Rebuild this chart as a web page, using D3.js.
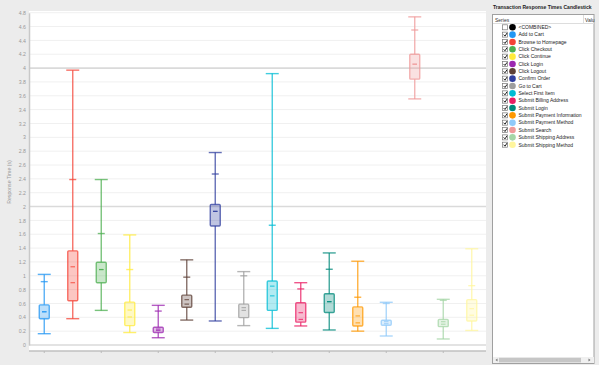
<!DOCTYPE html>
<html><head><meta charset="utf-8">
<script src="https://cdn.jsdelivr.net/npm/d3@7"></script>
<style>
html,body{margin:0;padding:0;background:#ececec;}
svg{display:block;font-family:"Liberation Sans",Arial,sans-serif;}
</style></head>
<body>
<svg id="c" width="599" height="365"></svg>
<script>
const categories = ["Add to Cart","Browse to Homepage","Click Checkout","Click Continue","Click Login","Click Logout","Confirm Order","Go to Cart","Select First Item","Submit Billing Address","Submit Login","Submit Payment Information","Submit Payment Method","Submit Search","Submit Shipping Address","Submit Shipping Method"];
const minVals    = [0.163,0.38,0.50,0.18,0.105,0.36,0.347,0.28,0.24,0.275,0.217,0.20,0.13,3.555,0.087,0.21];
const q1Vals     = [0.38,0.64,0.90,0.28,0.18,0.545,1.72,0.395,0.50,0.33,0.47,0.275,0.285,3.84,0.265,0.347];
const medianVals = [0.48,0.90,1.09,0.405,0.21,0.59,1.93,0.50,0.71,0.37,0.626,0.32,0.308,4.056,0.30,0.43];
const meanVals   = [0.48,1.13,1.09,0.505,0.23,0.655,1.93,0.54,0.85,0.467,0.626,0.42,0.337,4.056,0.337,0.525];
const q3Vals     = [0.58,1.36,1.195,0.62,0.256,0.72,2.03,0.59,0.925,0.61,0.74,0.55,0.357,4.20,0.37,0.655];
const p90Vals    = [0.915,2.39,1.61,1.09,0.49,0.98,2.47,1.0,1.73,0.81,1.094,0.69,0.60,4.55,0.645,0.857];
const maxVals    = [1.02,3.97,2.39,1.59,0.573,1.23,2.78,1.06,3.92,0.90,1.33,1.21,0.617,4.74,0.66,1.39];
const legendSeries = ["<COMBINED>"].concat(categories);
const legendChecked = [false].concat(categories.map(()=>true));
const colors = ["#000000","#2196F3","#F44336","#4CAF50","#FFEB3B","#9C27B0","#5D4037","#303F9F","#9E9E9E","#00BCD4","#E91E63","#00897B","#FF9800","#90CAF9","#EF9A9A","#A5D6A7","#FFF59D"];
const boxColors = colors.slice(1);
const yTicks = d3.range(0, 4.81, 0.2).map(v => +v.toFixed(1));
const majorTicks = [0, 2, 4];

const svg = d3.select("#c");
const W = 599, H = 365;
const plot = {x0: 29, x1: 486, y0: 11, y1: 351};

// plot background
svg.append("rect").attr("x", plot.x0).attr("y", plot.y0).attr("width", plot.x1 - plot.x0).attr("height", plot.y1 - plot.y0).attr("fill", "#fff");

const y = d3.scaleLinear().domain([0, 4.8]).range([345, 12.7]);
const x = d3.scaleBand().domain(categories).range([30, 486]);

// gridlines
svg.append("g").selectAll("line").data(yTicks).join("line")
  .attr("x1", plot.x0).attr("x2", plot.x1)
  .attr("y1", d => y(d)).attr("y2", d => y(d))
  .attr("stroke", d => majorTicks.includes(d) ? "#dadada" : "#f0f0f0")
  .attr("stroke-width", d => majorTicks.includes(d) ? 1.6 : 1);

// y axis
const yAxis = d3.axisLeft(y).tickValues(yTicks).tickSize(0).tickPadding(3).tickFormat(d => String(+d.toFixed(1)));
const ga = svg.append("g").attr("transform", `translate(${plot.x0},0)`).call(yAxis);
ga.select(".domain").attr("stroke", "#c8c8c8").attr("stroke-width", 1.5);
ga.selectAll("text").attr("font-size", 5.2).attr("fill", "#999");
svg.append("text").attr("transform", "translate(11,182) rotate(-90)").attr("text-anchor", "middle")
  .attr("font-size", 5.2).attr("fill", "#999").text("Response Time (s)");

// x axis
const xAxis = d3.axisBottom(x).tickValues(categories.filter((d,i)=> i % 2 === 0)).tickSize(2).tickFormat("");
const gx = svg.append("g").attr("transform", `translate(0,${plot.y1})`).call(xAxis);
gx.select(".domain").attr("stroke", "#c0c0c0").attr("stroke-width", 1.6).attr("d", `M${plot.x0},0H${plot.x1}`);
gx.selectAll(".tick line").attr("stroke", "#bbb");

// boxes
const bw = 10, cw = 13, tw = 7, mw = 4.5;
const g = svg.append("g");
categories.forEach((c, i) => {
  const cx = x(c) + x.bandwidth() / 2;
  const col = boxColors[i];
  const gg = g.append("g").attr("stroke", col).attr("stroke-opacity", 0.75).attr("fill", "none").attr("stroke-width", 1.4);
  gg.append("line").attr("x1", cx).attr("x2", cx).attr("y1", y(maxVals[i])).attr("y2", y(q3Vals[i]));
  gg.append("line").attr("x1", cx).attr("x2", cx).attr("y1", y(q1Vals[i])).attr("y2", y(minVals[i]));
  gg.append("line").attr("x1", cx - cw/2).attr("x2", cx + cw/2).attr("y1", y(maxVals[i])).attr("y2", y(maxVals[i]));
  gg.append("line").attr("x1", cx - cw/2).attr("x2", cx + cw/2).attr("y1", y(minVals[i])).attr("y2", y(minVals[i]));
  gg.append("line").attr("x1", cx - tw/2).attr("x2", cx + tw/2).attr("y1", y(p90Vals[i])).attr("y2", y(p90Vals[i]));
  gg.append("rect").attr("x", cx - bw/2).attr("width", bw)
    .attr("y", y(q3Vals[i])).attr("height", y(q1Vals[i]) - y(q3Vals[i]))
    .attr("rx", 1).attr("fill", col).attr("fill-opacity", 0.3);
  [medianVals[i], meanVals[i]].forEach(v => {
    gg.append("line").attr("x1", cx - mw/2).attr("x2", cx + mw/2).attr("y1", y(v)).attr("y2", y(v)).attr("stroke-width", 1.2);
  });
});

// legend panel
const lg = svg.append("g");
lg.append("text").attr("x", 493).attr("y", 9).attr("font-size", 5).attr("font-weight", "bold").attr("fill", "#222")
  .text("Transaction Response Times Candlestick");
lg.append("rect").attr("x", 492.5).attr("y", 14.5).attr("width", 101.5).attr("height", 349).attr("fill", "#fff").attr("stroke", "#a0a0a0");
lg.append("text").attr("x", 495).attr("y", 21.5).attr("font-size", 5).attr("fill", "#333").text("Series");
lg.append("text").attr("x", 585).attr("y", 21.5).attr("font-size", 5).attr("fill", "#333").text("Valu");
lg.append("line").attr("x1", 493).attr("x2", 594).attr("y1", 23.5).attr("y2", 23.5).attr("stroke", "#ddd");
lg.append("line").attr("x1", 583.5).attr("x2", 583.5).attr("y1", 15).attr("y2", 23.5).attr("stroke", "#ddd");
const ly = d3.scaleLinear().domain([0, legendSeries.length - 1]).range([27.3, 144.7]);
legendSeries.forEach((s, i) => {
  const yy = ly(i);
  lg.append("rect").attr("x", 502.5).attr("y", yy - 2.5).attr("width", 5).attr("height", 5).attr("fill", "#fff").attr("stroke", "#777").attr("stroke-width", 0.7);
  if (legendChecked[i]) {
    lg.append("path").attr("d", `M503.6,${yy} L505,${yy+1.5} L507,${yy-1.6}`).attr("fill", "none").attr("stroke", "#222").attr("stroke-width", 1);
  }
  lg.append("circle").attr("cx", 512.5).attr("cy", yy).attr("r", 3.3).attr("fill", colors[i]);
  lg.append("text").attr("x", 518.5).attr("y", yy + 1.8).attr("font-size", 5).attr("fill", "#222").text(s);
});
// scrollbar
lg.append("rect").attr("x", 493).attr("y", 357).attr("width", 101).attr("height", 6).attr("fill", "#f0f0f0");
lg.append("rect").attr("x", 499).attr("y", 357.8).attr("width", 82).attr("height", 4.6).attr("fill", "#c6c6c6");
lg.append("path").attr("d", "M497.5,358.5 L495.5,360 L497.5,361.5Z").attr("fill", "#777");
lg.append("path").attr("d", "M588.5,358.5 L590.5,360 L588.5,361.5Z").attr("fill", "#777");
</script>
</body></html>
